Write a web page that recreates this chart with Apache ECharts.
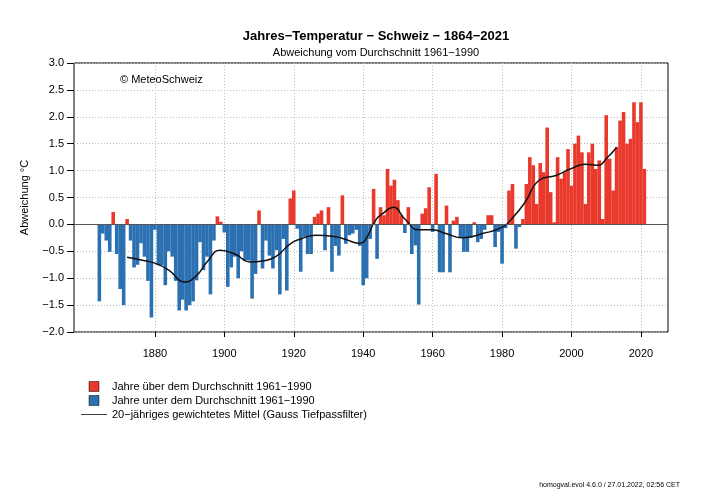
<!DOCTYPE html>
<html>
<head>
<meta charset="utf-8">
<script src="https://cdn.jsdelivr.net/npm/echarts@6/dist/echarts.min.js"></script>
<style>
 html,body{margin:0;padding:0;background:#fff;}
 #chart{width:705px;height:501px;}
</style>
</head>
<body>
<div id="chart"></div>
<script>
 var firstYear = 1864;
 // Abweichung in °C, 1864-2021
 var anomalies = [
  -1.43,-0.17,-0.3,-0.51,0.23,-0.55,-1.2,-1.5,0.1,-0.3,-0.8,-0.75,-0.35,-0.6,-1.05,-1.73,
  -0.1,-0.76,-0.76,-1.13,-0.5,-0.6,-1.05,-1.6,-1.4,-1.6,-1.5,-1.43,-1.04,-0.33,-0.85,-0.6,-1.3,-0.3,0.15,0.05,
  -0.15,
  -1.16,-0.8,-0.6,-1.0,-0.5,-0.67,-0.67,-1.38,-0.92,0.26,-0.82,-0.3,-0.58,-0.82,-0.48,-1.3,-0.27,-1.23,0.48,0.63,
  -0.08,-0.88,-0.23,-0.55,-0.55,0.14,0.2,0.26,-0.48,0.32,-0.88,-0.4,-0.58,0.54,-0.36,-0.2,-0.17,-0.1,-0.4,-1.13,
  -1.0,-0.27,0.66,-0.64,0.32,0.17,1.03,0.72,0.83,0.45,
  0.17,-0.16,0.32,-0.55,-0.39,-1.49,0.2,0.3,0.69,-0.14,
  0.94,-0.89,-0.89,0.35,-0.89,0.07,0.14,-0.25,-0.51,-0.51,
  -0.25,0.04,-0.33,-0.27,-0.1,0.17,0.17,-0.42,-0.14,-0.73,-0.07,
  0.63,0.75,-0.45,-0.05,0.1,0.75,1.25,1.1,0.38,1.14,0.97,1.8,0.6,0.04,1.25,0.85,0.97,1.4,0.72,1.5,
  1.65,1.34,0.38,1.34,1.5,1.03,1.19,0.1,2.03,1.22,0.63,1.44,1.93,2.09,1.5,1.59,2.27,1.9,2.27,1.03
 ];
 // 20-jähriges Mittel
 var smoothYears = [1872,1876,1880,1884,1888.6,1892,1895,1898.8,1903,1907.6,1911,1914.8,1919,1922,1926.3,1932,1935,1938.7,1940.5,1943.5,1946,1948.7,1952,1956,1960,1963.8,1968.6,1974.4,1980.1,1983.3,1986.6,1990.7,1995.5,2000,2004,2007.8,2010,2013];
 var smoothValues = [-0.61,-0.66,-0.72,-0.85,-1.07,-0.95,-0.7,-0.48,-0.55,-0.7,-0.68,-0.6,-0.36,-0.27,-0.2,-0.23,-0.28,-0.35,-0.3,0.07,0.22,0.32,0.1,-0.1,-0.1,-0.17,-0.25,-0.17,-0.05,0.14,0.41,0.82,0.91,1.04,1.12,1.1,1.22,1.43];
 var xTicks = [1880,1900,1920,1940,1960,1980,2000,2020];

 var above = [], below = [], line = [];
 for (var i = 0; i < anomalies.length; i++) {
  var y = firstYear + i;
  if (anomalies[i] >= 0) above.push([y, anomalies[i]]);
  else below.push([y, anomalies[i]]);
 }
 for (var j = 0; j < smoothYears.length; j++) line.push([smoothYears[j], smoothValues[j]]);

 var font = 'Liberation Sans';
 var myChart = echarts.init(document.getElementById('chart'));
 var option = {
  animation: false,
  textStyle: { fontFamily: font },
  title: [
   { text: 'Jahres\u2212Temperatur \u2212 Schweiz \u2212 1864\u22122021', left: 371, top: 25, textAlign: 'center',
     textStyle: { fontSize: 13, fontWeight: 'bold', color: '#000', fontFamily: font } },
   { text: 'Abweichung vom Durchschnitt 1961\u22121990', left: 371, top: 42, textAlign: 'center',
     textStyle: { fontSize: 11, fontWeight: 'normal', color: '#000', fontFamily: font } },
   { text: '\u00a9 MeteoSchweiz', left: 115, top: 69,
     textStyle: { fontSize: 11, fontWeight: 'normal', color: '#000', fontFamily: font } },
   { text: 'homogval.evol 4.6.0 / 27.01.2022, 02:56 CET', right: 20, top: 477,
     textStyle: { fontSize: 7, fontWeight: 'normal', color: '#000', fontFamily: font } }
  ],
  legend: {
   orient: 'vertical', left: 76, top: 376, itemGap: 3, itemWidth: 26, itemHeight: 10,
   textStyle: { fontSize: 11, color: '#000', fontFamily: font },
   data: [
    { name: 'Jahre \u00fcber dem Durchschnitt 1961\u22121990', icon: 'path://M9,0H19V10H9Z',
      itemStyle: { borderColor: '#000', borderWidth: 0.5 } },
    { name: 'Jahre unter dem Durchschnitt 1961\u22121990', icon: 'path://M9,0H19V10H9Z',
      itemStyle: { borderColor: '#000', borderWidth: 0.5 } },
    { name: '20\u2212j\u00e4hriges gewichtetes Mittel (Gauss Tiefpassfilter)', icon: 'path://M0,4.6H26V5.4H0Z' }
   ]
  },
  grid: { left: 74, right: 37, top: 63, bottom: 169, show: true, borderColor: '#000', borderWidth: 1 },
  xAxis: {
   type: 'value', min: 1856.7, max: 2027.8,
   axisLine: { show: false, onZero: false },
   axisTick: { show: true, length: 5, lineStyle: { color: '#000' }, customValues: xTicks },
   axisLabel: { customValues: xTicks, color: '#000', fontSize: 11, margin: 16, fontFamily: font,
     formatter: function (v) { return String(v); } },
   splitLine: { show: true, lineStyle: { color: '#bbb', type: [1, 2] } }
  },
  yAxis: {
   type: 'value', min: -2, max: 3, interval: 0.5,
   name: 'Abweichung \u00b0C', nameLocation: 'middle', nameGap: 44, nameRotate: 90,
   nameTextStyle: { color: '#000', fontSize: 11, fontFamily: font },
   axisLine: { show: false },
   axisTick: { show: true, length: 7, lineStyle: { color: '#000' } },
   axisLabel: { color: '#000', fontSize: 11, margin: 10, fontFamily: font,
     formatter: function (v) { return v.toFixed(1).replace('-', '\u2212'); } },
   splitLine: { show: true, lineStyle: { color: '#bbb', type: [1, 2] } }
  },
  series: [
   { name: 'Jahre \u00fcber dem Durchschnitt 1961\u22121990', type: 'bar', data: above,
     barWidth: 3.6, barGap: '-100%', itemStyle: { color: '#e8392c' } },
   { name: 'Jahre unter dem Durchschnitt 1961\u22121990', type: 'bar', data: below,
     barWidth: 3.6, barGap: '-100%', itemStyle: { color: '#2b70b1' },
     markLine: { silent: true, symbol: 'none', label: { show: false },
       lineStyle: { color: '#555', type: 'solid', width: 1 }, data: [{ yAxis: 0 }] } },
   { name: '20\u2212j\u00e4hriges gewichtetes Mittel (Gauss Tiefpassfilter)', type: 'line', data: line,
     smooth: 0.5, symbol: 'none', lineStyle: { color: '#111', width: 1.5 }, itemStyle: { color: '#111' } }
  ]
 };
 myChart.setOption(option);
</script>
</body>
</html>
